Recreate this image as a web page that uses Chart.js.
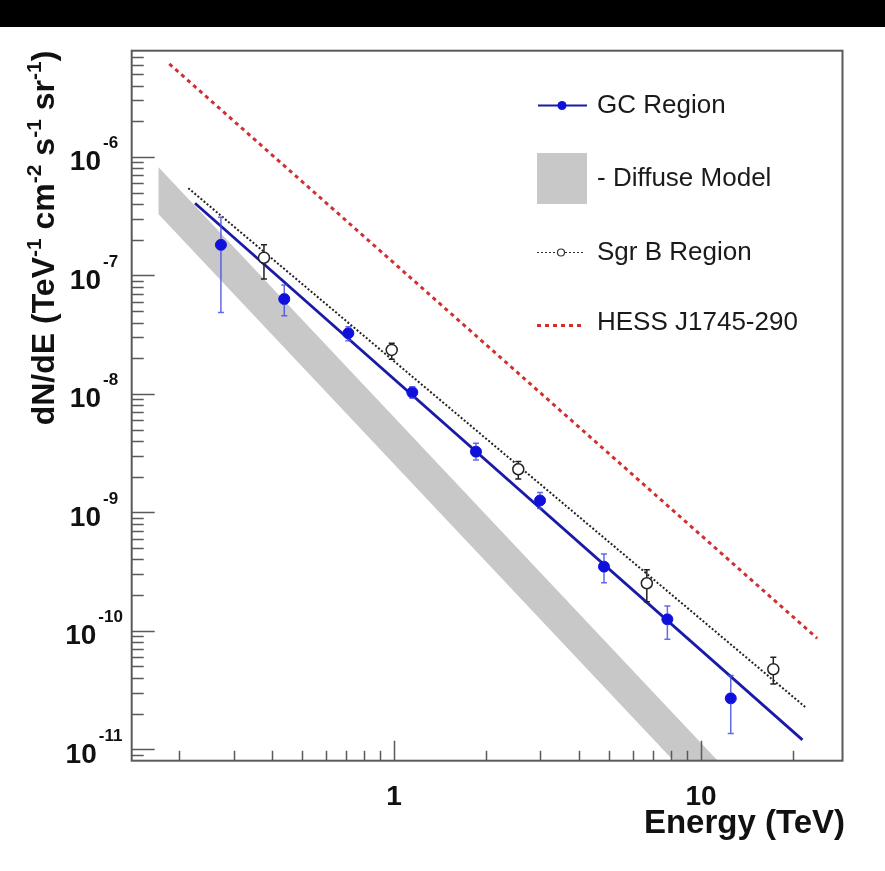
<!DOCTYPE html>
<html>
<head>
<meta charset="utf-8">
<script src="https://cdn.jsdelivr.net/npm/chart.js@4.4.1/dist/chart.umd.min.js"></script>
<style>
  html, body { margin: 0; padding: 0; background: #fff; }
  #wrap { position: relative; width: 885px; height: 871px; }
  #topbar { position: absolute; left: 0; top: 0; width: 885px; height: 27px; background: #000; }
  canvas { position: absolute; left: 0; top: 0; }
</style>
</head>
<body>
<div id="wrap">
  <canvas id="chart" width="885" height="871"></canvas>
  <div id="topbar"></div>
</div>
<script>
// GC region points (TeV, TeV^-1 cm^-2 s^-1 sr^-1)
const gcEnergy = [0.273, 0.439, 0.710, 1.147, 1.849, 2.99, 4.83, 7.77, 12.5];
const gcFlux = [1.81e-7, 6.32e-8, 3.25e-8, 1.03e-8, 3.25e-9, 1.26e-9, 3.48e-10, 1.25e-10, 2.69e-11];
const gcFluxHi = [3.10e-7, 8.31e-8, 3.69e-8, 1.15e-8, 3.83e-9, 1.47e-9, 4.46e-10, 1.62e-10, 4.19e-11];
const gcFluxLo = [4.85e-8, 4.57e-8, 2.81e-8, 9.18e-9, 2.77e-9, 1.08e-9, 2.55e-10, 8.5e-11, 1.36e-11];

// Sgr B region points
const sgrEnergy = [0.377, 0.983, 2.54, 6.66, 17.2];
const sgrFlux = [1.41e-7, 2.35e-8, 2.31e-9, 2.52e-10, 4.74e-11];
const sgrFluxHi = [1.81e-7, 2.67e-8, 2.68e-9, 3.27e-10, 5.98e-11];
const sgrFluxLo = [9.33e-8, 1.96e-8, 1.91e-9, 1.76e-10, 3.56e-11];

// power-law fits (end points)
const gcFitEnergy = [0.2248, 21.4];
const gcFitFlux = [4.06e-7, 1.20e-11];
const sgrFitEnergy = [0.2138, 22.0];
const sgrFitFlux = [5.44e-7, 2.24e-11];
const hessEnergy = [0.1854, 23.9];
const hessFlux = [6.10e-6, 8.65e-11];

// diffuse model band
const diffuseEnergy = [0.1707, 20];
const diffuseHigh = [8.23e-7, 1.68e-12];
const diffuseLow = [3.30e-7, 6.76e-13];

// axis ranges and labels
const xMin = 0.1398, xMax = 28.9;
const yMin = 8.01e-12, yMax = 7.88e-6;
const xTickLabels = [1, 10];
const yTickExps = [-6, -7, -8, -9, -10, -11];

const FONT = '"Liberation Sans", Arial, Helvetica, sans-serif';

const pts = (xs, ys) => xs.map((x, i) => ({ x: x, y: ys[i] }));

function drawErrorBars(ctx, chart, xs, ys, lo, hi, color, r) {
  const xs_ = chart.scales.x, ys_ = chart.scales.y;
  ctx.save();
  ctx.strokeStyle = color;
  ctx.lineWidth = 1.5;
  xs.forEach((e, i) => {
    const px = xs_.getPixelForValue(e);
    const py = ys_.getPixelForValue(ys[i]);
    const top = ys_.getPixelForValue(hi[i]);
    const bot = Math.min(ys_.getPixelForValue(lo[i]), chart.chartArea.bottom);
    ctx.beginPath();
    if (top < py - r) { ctx.moveTo(px, top); ctx.lineTo(px, py - r); }
    if (bot > py + r) { ctx.moveTo(px, py + r); ctx.lineTo(px, bot); }
    ctx.moveTo(px - 3, top); ctx.lineTo(px + 3, top);
    ctx.moveTo(px - 3, bot); ctx.lineTo(px + 3, bot);
    ctx.stroke();
  });
  ctx.restore();
}

const decor = {
  id: 'decor',
  afterDatasetsDraw(chart) {
    const ctx = chart.ctx;
    const a = chart.chartArea;
    const sx = chart.scales.x, sy = chart.scales.y;

    drawErrorBars(ctx, chart, gcEnergy, gcFlux, gcFluxLo, gcFluxHi, 'rgba(70,80,225,0.85)', 5.5);
    drawErrorBars(ctx, chart, sgrEnergy, sgrFlux, sgrFluxLo, sgrFluxHi, '#222', 5.5);

    // frame + inward ticks
    ctx.save();
    ctx.strokeStyle = '#5a5a5a';
    ctx.lineWidth = 2;
    ctx.strokeRect(a.left, a.top, a.right - a.left, a.bottom - a.top);
    ctx.lineWidth = 1.5;
    ctx.beginPath();
    for (let d = -12; d <= -5; d++) {
      for (let m = 1; m <= 9; m++) {
        const v = m * Math.pow(10, d);
        if (v < yMin || v > yMax) continue;
        const py = Math.round(sy.getPixelForValue(v)) + 0.5;
        ctx.moveTo(a.left, py);
        ctx.lineTo(a.left + (m === 1 ? 23 : 12), py);
      }
    }
    for (let d = -1; d <= 1; d++) {
      for (let m = 1; m <= 9; m++) {
        const v = m * Math.pow(10, d);
        if (v < xMin || v > xMax) continue;
        const px = Math.round(sx.getPixelForValue(v)) + 0.5;
        ctx.moveTo(px, a.bottom);
        ctx.lineTo(px, a.bottom - (m === 1 ? 20 : 10));
      }
    }
    ctx.stroke();
    ctx.restore();

    // tick labels
    ctx.save();
    ctx.fillStyle = '#111';
    ctx.textBaseline = 'alphabetic';
    yTickExps.forEach(ex => {
      const py = sy.getPixelForValue(Math.pow(10, ex));
      const base = '10', sup = String(ex);
      ctx.font = 'bold 28px ' + FONT;
      const wb = ctx.measureText(base).width;
      ctx.font = 'bold 17px ' + FONT;
      const ws = ctx.measureText(sup).width;
      const x0 = 94 - (wb + 2 + ws) / 2;
      ctx.font = 'bold 28px ' + FONT;
      ctx.textAlign = 'left';
      ctx.fillText(base, x0, py + 13.5);
      ctx.font = 'bold 17px ' + FONT;
      ctx.fillText(sup, x0 + wb + 2, py - 8.5);
    });
    ctx.font = 'bold 28px ' + FONT;
    ctx.textAlign = 'center';
    xTickLabels.forEach(v => {
      ctx.fillText(String(v), sx.getPixelForValue(v), 805);
    });

    // x title
    ctx.font = 'bold 33px ' + FONT;
    ctx.textAlign = 'right';
    ctx.fillText('Energy (TeV)', 845, 833);

    // y title with superscripts, rotated
    const parts = [['dN/dE (TeV', 0], ['-1', 1], [' cm', 0], ['-2', 1], [' s', 0], ['-1', 1], [' sr', 0], ['-1', 1], [')', 0]];
    const mainSize = 32, supSize = 21;
    let total = 0;
    parts.forEach(p => {
      ctx.font = 'bold ' + (p[1] ? supSize : mainSize) + 'px ' + FONT;
      total += ctx.measureText(p[0]).width;
    });
    ctx.translate(54, 238);
    ctx.rotate(-Math.PI / 2);
    let cx = -total / 2;
    ctx.textAlign = 'left';
    parts.forEach(p => {
      ctx.font = 'bold ' + (p[1] ? supSize : mainSize) + 'px ' + FONT;
      ctx.fillText(p[0], cx, p[1] ? -13 : 0);
      cx += ctx.measureText(p[0]).width;
    });
    ctx.restore();

    // legend
    ctx.save();
    ctx.font = '26px ' + FONT;
    ctx.fillStyle = '#1a1a1a';
    ctx.textBaseline = 'middle';
    ctx.textAlign = 'left';
    // GC
    ctx.strokeStyle = '#1a1aa8';
    ctx.lineWidth = 2;
    ctx.beginPath(); ctx.moveTo(538, 105.5); ctx.lineTo(587, 105.5); ctx.stroke();
    ctx.fillStyle = '#1010dd';
    ctx.beginPath(); ctx.arc(562, 105.5, 4.5, 0, Math.PI * 2); ctx.fill();
    ctx.fillStyle = '#1a1a1a';
    ctx.fillText('GC Region', 597, 106);
    // diffuse
    ctx.fillStyle = '#c8c8c8';
    ctx.fillRect(537, 153, 50, 51);
    ctx.fillStyle = '#1a1a1a';
    ctx.fillText('- Diffuse Model', 597, 179);
    // Sgr B
    ctx.strokeStyle = '#333';
    ctx.lineWidth = 1.2;
    ctx.setLineDash([2, 2]);
    ctx.beginPath(); ctx.moveTo(537, 252.5); ctx.lineTo(585, 252.5); ctx.stroke();
    ctx.setLineDash([]);
    ctx.fillStyle = '#fff';
    ctx.beginPath(); ctx.arc(561, 252.5, 3.5, 0, Math.PI * 2); ctx.fill(); ctx.stroke();
    ctx.fillStyle = '#1a1a1a';
    ctx.fillText('Sgr B Region', 597, 253);
    // HESS
    ctx.strokeStyle = '#d03030';
    ctx.lineWidth = 3;
    ctx.setLineDash([4, 4]);
    ctx.beginPath(); ctx.moveTo(537, 325.5); ctx.lineTo(584, 325.5); ctx.stroke();
    ctx.setLineDash([]);
    ctx.fillText('HESS J1745-290', 597, 323);
    ctx.restore();
  }
};

new Chart(document.getElementById('chart').getContext('2d'), {
  type: 'scatter',
  data: {
    datasets: [
      {
        label: 'Diffuse Model',
        data: pts(diffuseEnergy, diffuseHigh),
        showLine: true,
        borderWidth: 0,
        borderColor: 'rgba(0,0,0,0)',
        backgroundColor: '#c8c8c8',
        pointRadius: 0,
        fill: '+1',
        order: 10
      },
      {
        label: 'Diffuse Model low',
        data: pts(diffuseEnergy, diffuseLow),
        showLine: true,
        borderWidth: 0,
        borderColor: 'rgba(0,0,0,0)',
        pointRadius: 0,
        fill: false,
        order: 9
      },
      {
        label: 'HESS J1745-290',
        data: pts(hessEnergy, hessFlux),
        showLine: true,
        borderColor: '#d03030',
        borderWidth: 3,
        borderDash: [4, 4],
        pointRadius: 0,
        fill: false,
        order: 5
      },
      {
        label: 'Sgr B fit',
        data: pts(sgrFitEnergy, sgrFitFlux),
        showLine: true,
        borderColor: '#222',
        borderWidth: 2,
        borderDash: [2, 2],
        pointRadius: 0,
        fill: false,
        order: 4
      },
      {
        label: 'GC fit',
        data: pts(gcFitEnergy, gcFitFlux),
        showLine: true,
        borderColor: '#1a1aa8',
        borderWidth: 2.8,
        pointRadius: 0,
        fill: false,
        order: 3
      },
      {
        label: 'Sgr B Region',
        data: pts(sgrEnergy, sgrFlux),
        showLine: false,
        pointRadius: 5.5,
        pointBackgroundColor: '#fff',
        pointBorderColor: '#222',
        pointBorderWidth: 1.5,
        order: 2
      },
      {
        label: 'GC Region',
        data: pts(gcEnergy, gcFlux),
        showLine: false,
        pointRadius: 5.5,
        pointBackgroundColor: '#1010dd',
        pointBorderColor: '#1010dd',
        pointBorderWidth: 1,
        order: 1
      }
    ]
  },
  options: {
    responsive: false,
    devicePixelRatio: 1,
    animation: false,
    layout: { padding: { left: 131.7, top: 50.7, right: 42.5, bottom: 110.3 } },
    scales: {
      x: { type: 'logarithmic', min: xMin, max: xMax, display: false },
      y: { type: 'logarithmic', min: yMin, max: yMax, display: false }
    },
    plugins: {
      legend: { display: false },
      tooltip: { enabled: false }
    }
  },
  plugins: [decor]
});
</script>
</body>
</html>
